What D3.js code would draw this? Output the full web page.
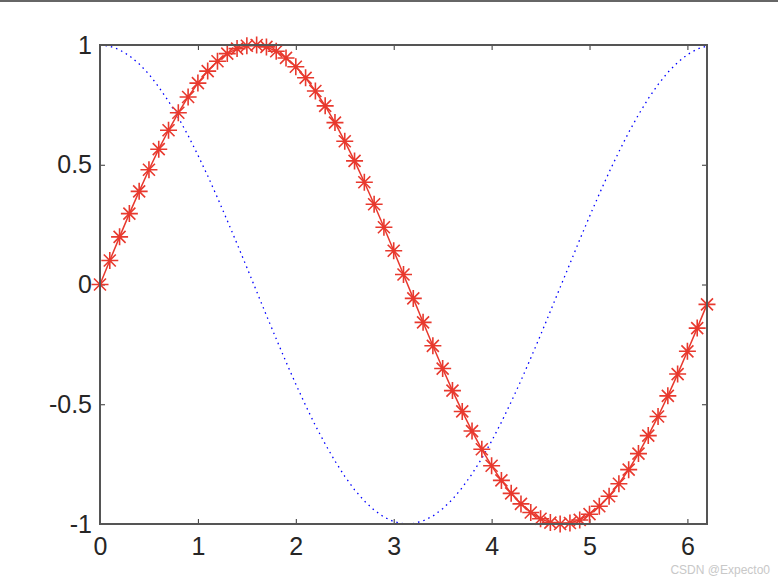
<!DOCTYPE html>
<html>
<head>
<meta charset="utf-8">
<script src="https://cdn.jsdelivr.net/npm/d3@7"></script>
<style>
  body { margin: 0; background: #fff; }
  svg { display: block; }
</style>
</head>
<body>
<svg></svg>
<script>
const width = 778;
const height = 586;
const margin = { left: 100, right: 71, top: 45, bottom: 62 };

// x = 0:0.1:6.2
const xValues = d3.range(63).map(i => i / 10);
const sinValues = [0, 0.100, 0.199, 0.296, 0.389, 0.479, 0.565, 0.644, 0.717, 0.783,
  0.841, 0.891, 0.932, 0.964, 0.985, 0.997, 1.000, 0.992, 0.974, 0.946,
  0.909, 0.863, 0.808, 0.746, 0.676, 0.598, 0.516, 0.427, 0.335, 0.239,
  0.141, 0.042, -0.058, -0.158, -0.256, -0.351, -0.443, -0.530, -0.612, -0.688,
  -0.757, -0.818, -0.872, -0.916, -0.952, -0.978, -0.994, -1.000, -0.996, -0.983,
  -0.959, -0.926, -0.884, -0.832, -0.773, -0.706, -0.631, -0.551, -0.465, -0.374,
  -0.279, -0.182, -0.083];
const cosValues = [1.000, 0.995, 0.980, 0.955, 0.921, 0.878, 0.825, 0.765, 0.697, 0.622,
  0.540, 0.454, 0.362, 0.267, 0.170, 0.071, -0.029, -0.129, -0.227, -0.323,
  -0.416, -0.505, -0.589, -0.666, -0.737, -0.801, -0.857, -0.904, -0.942, -0.971,
  -0.990, -0.999, -0.998, -0.987, -0.967, -0.936, -0.897, -0.848, -0.791, -0.726,
  -0.654, -0.575, -0.490, -0.401, -0.307, -0.211, -0.112, -0.012, 0.087, 0.187,
  0.284, 0.378, 0.469, 0.554, 0.635, 0.709, 0.776, 0.835, 0.886, 0.927,
  0.960, 0.983, 0.996];
const xTicks = [0, 1, 2, 3, 4, 5, 6];
const yTicks = [-1, -0.5, 0, 0.5, 1];

const svg = d3.select('svg')
    .attr('width', width)
    .attr('height', height);

// grey line along the top of the figure window
svg.append('rect')
    .attr('x', 0).attr('y', 0)
    .attr('width', width).attr('height', 2)
    .attr('fill', '#666');

const xScale = d3.scaleLinear()
    .domain([0, 6.2])
    .range([margin.left, width - margin.right]);
const yScale = d3.scaleLinear()
    .domain([-1, 1])
    .range([height - margin.bottom, margin.top]);

const axisColor = '#555';
const fontFamily = '"Liberation Sans", Arial, sans-serif';

function styleAxis(g, labels) {
  g.select('.domain').remove();
  g.selectAll('.tick line').attr('stroke', '#333').attr('stroke-width', 1);
  g.selectAll('.tick text')
      .attr('fill', labels ? '#262626' : 'none')
      .style('font-family', fontFamily)
      .style('font-size', '25px');
}

const tickLen = 5;
svg.append('g')
    .attr('transform', 'translate(0,' + yScale(-1) + ')')
    .call(d3.axisBottom(xScale).tickValues(xTicks).tickSize(-tickLen).tickPadding(13).tickFormat(d3.format('d')))
    .call(g => styleAxis(g, true));
svg.append('g')
    .attr('transform', 'translate(0,' + yScale(1) + ')')
    .call(d3.axisTop(xScale).tickValues(xTicks).tickSize(-tickLen).tickFormat(''))
    .call(g => styleAxis(g, false));
svg.append('g')
    .attr('transform', 'translate(' + xScale(0) + ',0)')
    .call(d3.axisLeft(yScale).tickValues(yTicks).tickSize(-tickLen).tickPadding(8).tickFormat(d => d))
    .call(g => styleAxis(g, true));
svg.append('g')
    .attr('transform', 'translate(' + xScale(6.2) + ',0)')
    .call(d3.axisRight(yScale).tickValues(yTicks).tickSize(-tickLen).tickFormat(''))
    .call(g => styleAxis(g, false));

// cos: blue dotted
svg.append('path')
    .datum(xValues.map((x, i) => [x, cosValues[i]]))
    .attr('fill', 'none')
    .attr('stroke', '#0000ff')
    .attr('stroke-width', 1.3)
    .attr('stroke-dasharray', '1.5,4')
    .attr('d', d3.line().x(d => xScale(d[0])).y(d => yScale(d[1])));

// sin: red line with asterisks
const red = '#e8392e';
const sinData = xValues.map((x, i) => [x, sinValues[i]]);
svg.append('path')
    .datum(sinData)
    .attr('fill', 'none')
    .attr('stroke', red)
    .attr('stroke-width', 1.5)
    .attr('d', d3.line().x(d => xScale(d[0])).y(d => yScale(d[1])));

const r = 8.5, rd = 6;
const starPath = 'M' + (-r) + ',0H' + r + 'M0,' + (-r) + 'V' + r +
    'M' + (-rd) + ',' + (-rd) + 'L' + rd + ',' + rd +
    'M' + (-rd) + ',' + rd + 'L' + rd + ',' + (-rd);
svg.append('g')
    .selectAll('path')
    .data(sinData)
    .enter()
    .append('path')
    .attr('transform', d => 'translate(' + xScale(d[0]) + ',' + yScale(d[1]) + ')')
    .attr('d', starPath)
    .attr('fill', 'none')
    .attr('stroke', red)
    .attr('stroke-width', 1.6);

// axes box
svg.append('rect')
    .attr('x', xScale(0))
    .attr('y', yScale(1))
    .attr('width', xScale(6.2) - xScale(0))
    .attr('height', yScale(-1) - yScale(1))
    .attr('fill', 'none')
    .attr('stroke', axisColor)
    .attr('stroke-width', 2);

// watermark
svg.append('text')
    .attr('x', 770)
    .attr('y', 574)
    .style('text-anchor', 'end')
    .style('font-family', fontFamily)
    .style('font-size', '12px')
    .attr('fill', '#c8c8c8')
    .text('CSDN @Expecto0');
</script>
</body>
</html>
